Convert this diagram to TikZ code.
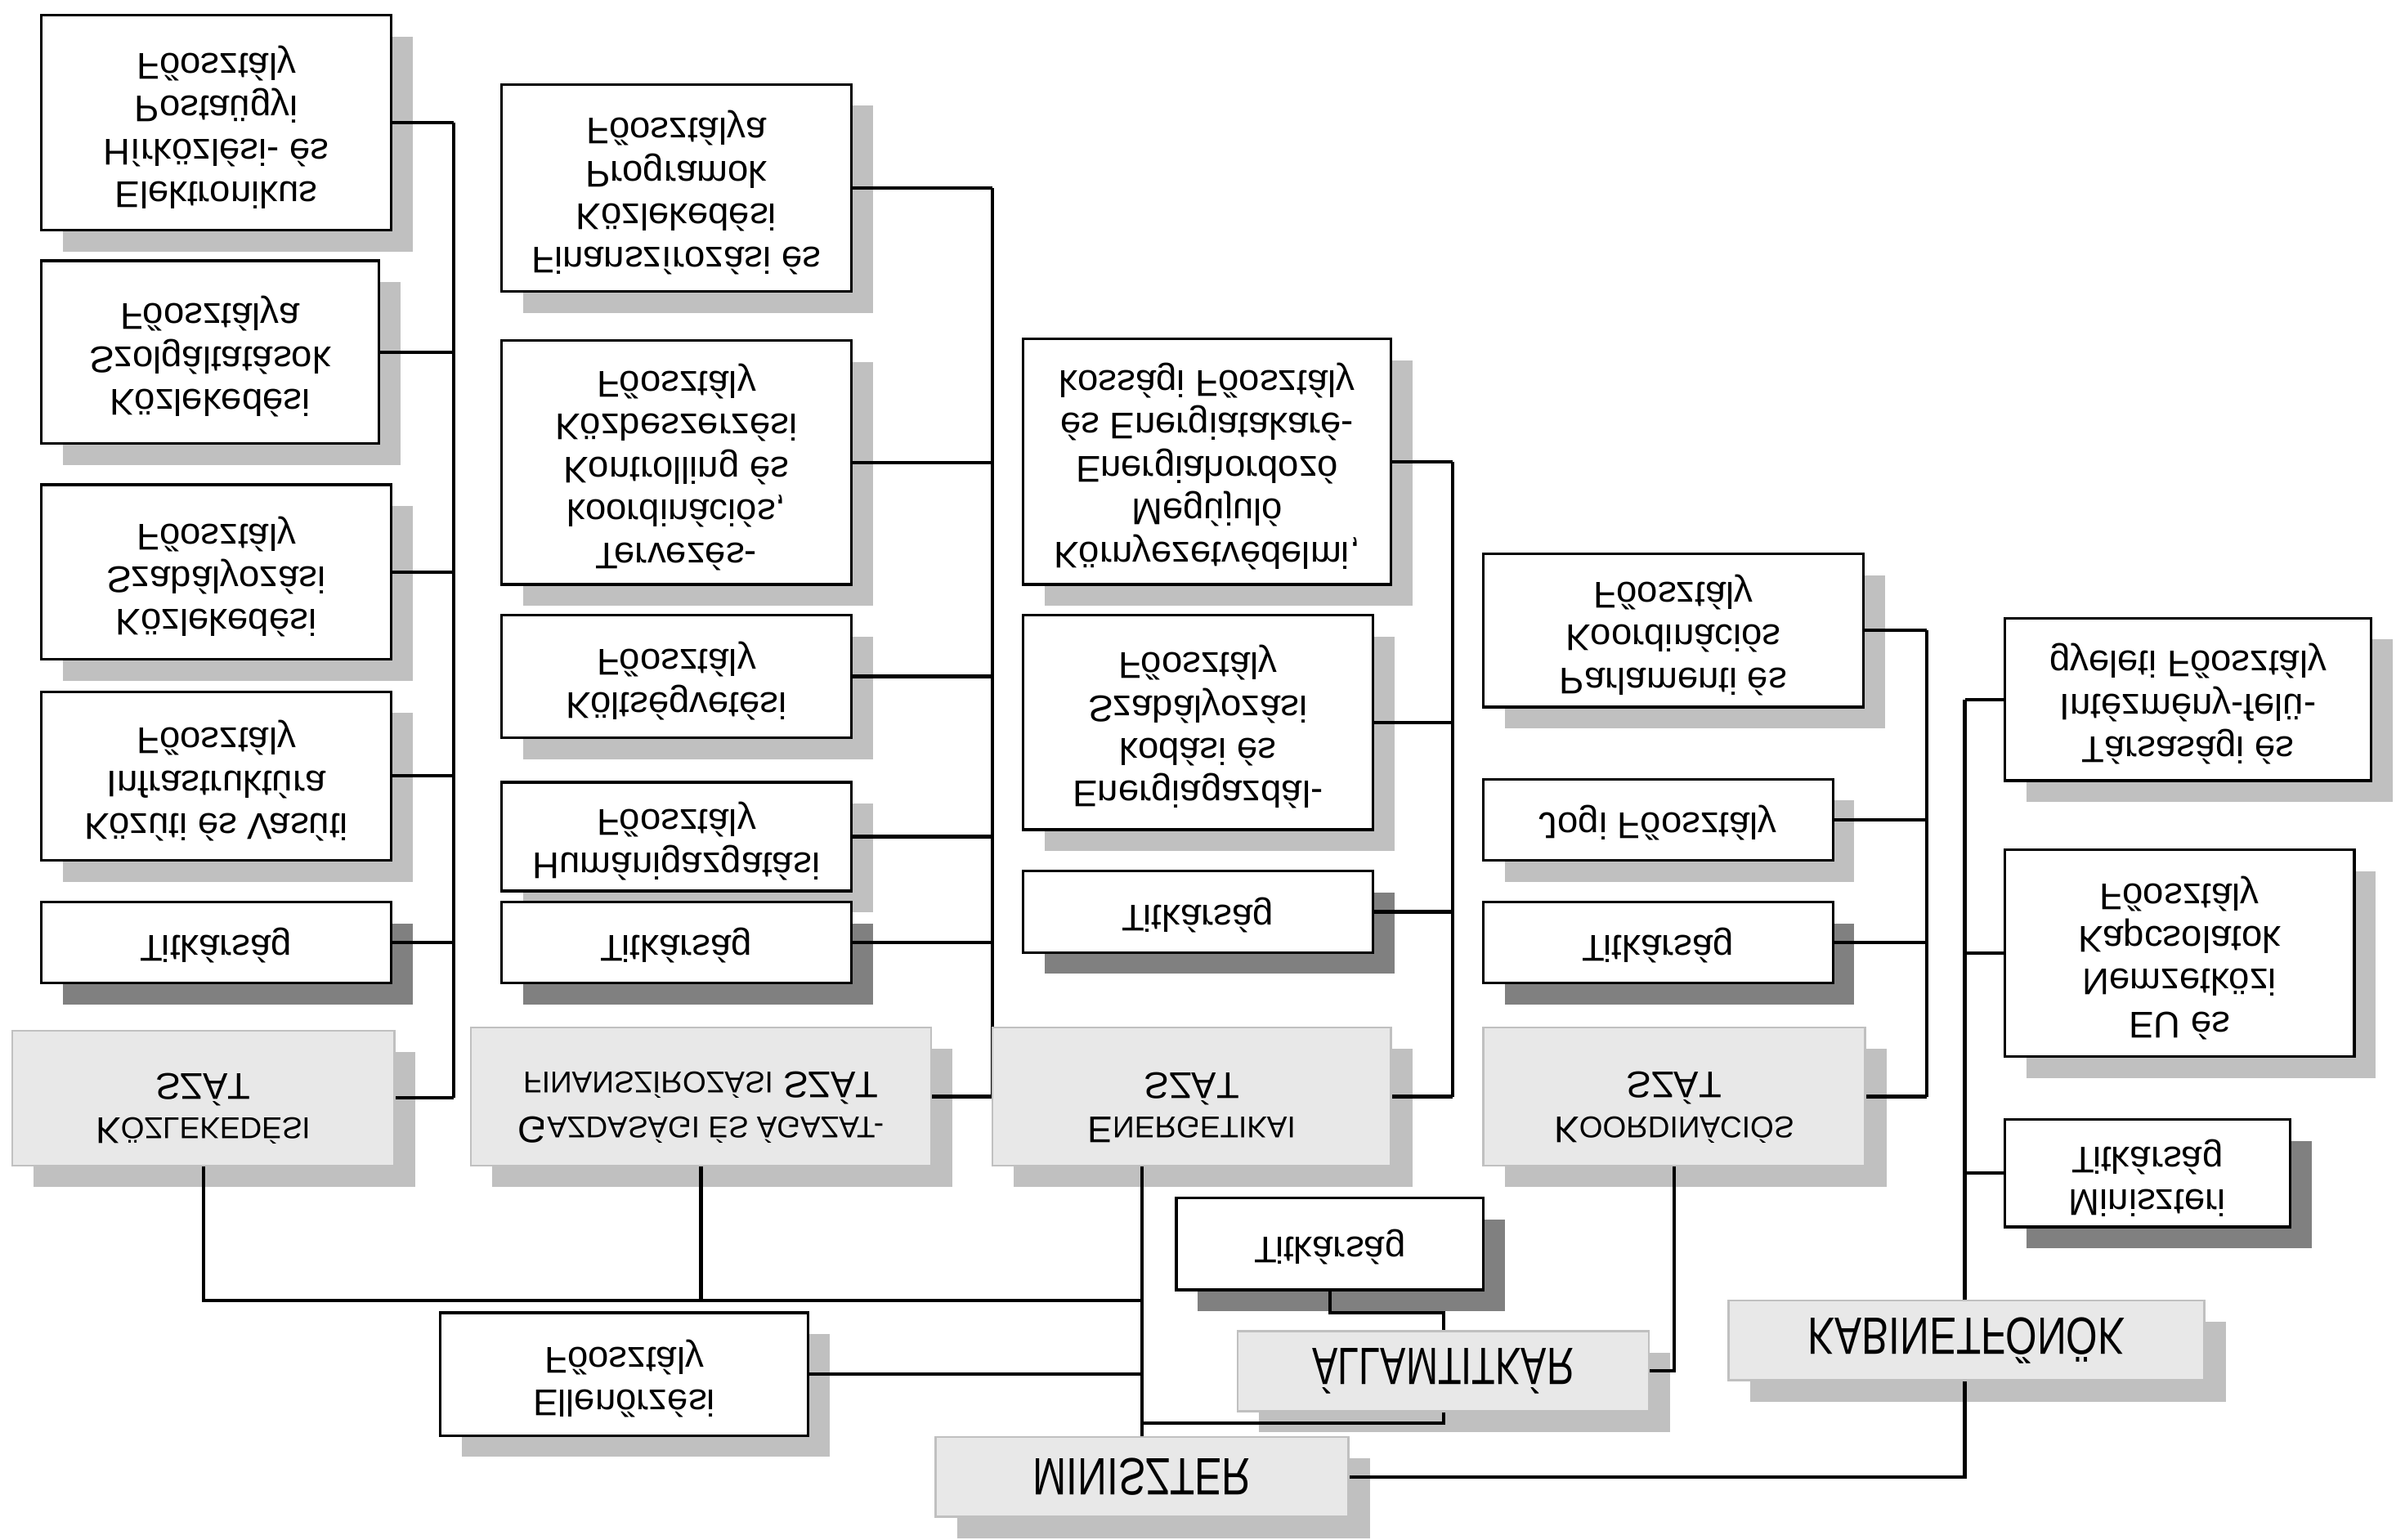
\documentclass[tikz,border=0pt]{standalone}
\usepackage{fontspec}
\usepackage{graphicx}
\setmainfont{Liberation Sans}
\pgfdeclarelayer{shadow}
\pgfdeclarelayer{lines}
\pgfsetlayers{shadow,lines,main}
\definecolor{shlight}{HTML}{C0C0C0}
\definecolor{shdark}{HTML}{808080}
\definecolor{grayfill}{HTML}{E8E8E8}
\newcommand\smc[1]{{\fontsize{11.2}{16.5}\selectfont #1}}
\newcommand\bigt[2]{\scalebox{#1}[1]{\fontsize{19.5}{21}\selectfont #2}}
\tikzset{
  wbox/.style={draw=black, line width=1pt, fill=white, inner sep=0pt},
  gbox/.style={draw=shlight, line width=0.8pt, fill=grayfill, inner sep=0pt},
  wboxtext/.style={inner sep=0pt, align=center, font=\fontsize{13.8}{15.9}\selectfont},
  gboxtext/.style={inner sep=0pt, align=center, font=\fontsize{13.8}{16.5}\selectfont},
  conn/.style={line width=1.25pt, line join=miter},
}
% name, x1, y1, x2, y2, style, shadow colour, text, text offset
\newcommand\obox[9]{%
  \begin{pgfonlayer}{shadow}
    \fill[#7] (#2+14,#3+14) rectangle (#4+14,#5+14);
  \end{pgfonlayer}
  \node[#6, minimum width={(#4-#2)*0.02cm}, minimum height={(#5-#3)*0.02cm}] (#1) at ({(#2+#4)/2},{(#3+#5)/2}) {};
  \node[#6text] (#1-t) at ({(#2+#4)/2},{(#3+#5)/2+#9}) {#8};
}
\begin{document}
\begin{tikzpicture}[x=0.02cm,y=0.02cm,yscale=-1,every node/.append style={transform shape}]
\useasboundingbox (0,0) rectangle (1568,1004);
% column A
\obox{A1}{27}{10}{255}{150}{wbox}{shlight}{Elektronikus\\Hírközlési- és\\Postaügyi\\Főosztály}{3}
\obox{A2}{27}{170}{247}{289}{wbox}{shlight}{Közlekedési\\Szolgáltatások\\Főosztálya}{3}
\obox{A3}{27}{316}{255}{430}{wbox}{shlight}{Közlekedési\\Szabályozási\\Főosztály}{3}
\obox{A4}{27}{451}{255}{561}{wbox}{shlight}{Közúti és Vasúti\\Infrastruktúra\\Főosztály}{3}
\obox{A5}{27}{588}{255}{641}{wbox}{shdark}{Titkárság}{2}
\obox{SZA}{8}{672}{257}{760}{gbox}{shlight}{K\smc{ÖZLEKEDÉSI}\\SZÁT}{7}
% column B
\obox{B1}{327}{55}{555}{190}{wbox}{shlight}{Finanszírozási és\\Közlekedési\\Programok\\Főosztálya}{3}
\obox{B2}{327}{222}{555}{381}{wbox}{shlight}{Tervezés-\\koordinációs,\\Kontrolling és\\Közbeszerzési\\Főosztály}{3}
\obox{B3}{327}{401}{555}{481}{wbox}{shlight}{Költségvetési\\Főosztály}{3}
\obox{B4}{327}{510}{555}{581}{wbox}{shlight}{Humánigazgatási\\Főosztály}{3}
\obox{B5}{327}{588}{555}{641}{wbox}{shdark}{Titkárság}{2}
\obox{SZB}{307}{670}{607}{760}{gbox}{shlight}{G\smc{AZDASÁGI ÉS ÁGAZAT-}\\\smc{FINANSZÍROZÁSI} SZÁT}{7}
% column C
\obox{C1}{667}{221}{907}{381}{wbox}{shlight}{Környezetvédelmi,\\Megújuló\\Energiahordozó\\és Energiatakaré-\\kossági Főosztály}{3}
\obox{C2}{667}{401}{895}{541}{wbox}{shlight}{Energiagazdál-\\kodási és\\Szabályozási\\Főosztály}{3}
\obox{C3}{667}{568}{895}{621}{wbox}{shdark}{Titkárság}{2}
\obox{SZC}{647}{670}{907}{760}{gbox}{shlight}{E\smc{NERGETIKAI}\\SZÁT}{7}
% column D
\obox{D1}{967}{361}{1215}{461}{wbox}{shlight}{Parlamenti és\\Koordinációs\\Főosztály}{3}
\obox{D2}{967}{508}{1195}{561}{wbox}{shlight}{Jogi Főosztály}{2}
\obox{D3}{967}{588}{1195}{641}{wbox}{shdark}{Titkárság}{2}
\obox{SZD}{967}{670}{1216}{760}{gbox}{shlight}{K\smc{OORDINÁCIÓS}\\SZÁT}{7}
% column E
\obox{E1}{1307}{403}{1546}{509}{wbox}{shlight}{Társasági és\\Intézmény-felü-\\gyeleti Főosztály}{3}
\obox{E2}{1307}{554}{1535}{689}{wbox}{shlight}{EU és\\Nemzetközi\\Kapcsolatok\\Főosztály}{3}
\obox{E3}{1307}{730}{1493}{800}{wbox}{shdark}{Miniszteri\\Titkárság}{3}
% bottom
\obox{ELL}{287}{856}{527}{936}{wbox}{shlight}{Ellenőrzési\\Főosztály}{3}
\obox{TT}{767}{781}{967}{841}{wbox}{shdark}{Titkárság}{2}
\obox{AT}{807}{868}{1075}{920}{gbox}{shlight}{\bigt{0.73}{ÁLLAMTITKÁR}}{0}
\obox{KAB}{1127}{848}{1437}{900}{gbox}{shlight}{\bigt{0.77}{KABINETFŐNÖK}}{0}
\obox{MIN}{610}{937}{879}{989}{gbox}{shlight}{\bigt{0.77}{MINISZTER}}{0}
% connectors
\begin{pgfonlayer}{lines}
\coordinate (busA) at (296,80);
\coordinate (busB) at (647,122);
\coordinate (busC) at (947,300);
\coordinate (busD) at (1256,410);
\coordinate (busE) at (1281,456);
\coordinate (m1) at (744,848);
\foreach \n in {A1,A2,A3,A4,A5,SZA} {\draw[conn] (\n.east) -- (\n.east -| busA);}
\draw[conn] (A1.east -| busA) -- (SZA.east -| busA);
\foreach \n in {B1,B2,B3,B4,B5,SZB} {\draw[conn] (\n.east) -- (\n.east -| busB);}
\draw[conn] (B1.east -| busB) -- (SZB.east -| busB);
\foreach \n in {C1,C2,C3,SZC} {\draw[conn] (\n.east) -- (\n.east -| busC);}
\draw[conn] (C1.east -| busC) -- (SZC.east -| busC);
\foreach \n in {D1,D2,D3,SZD} {\draw[conn] (\n.east) -- (\n.east -| busD);}
\draw[conn] (D1.east -| busD) -- (SZD.east -| busD);
\foreach \n in {E1,E2,E3} {\draw[conn] (\n.west) -- (\n.west -| busE);}
\draw[conn] (MIN.east) -| (busE);
\draw[conn] (SZA.north) |- (m1);
\draw[conn] (SZB.north) -- (SZB.north |- m1);
\draw[conn] (SZC.north -| MIN.south) -- (MIN.south);
\draw[conn] (ELL.east) -- (ELL.east -| MIN.south);
\draw[conn] (TT.north) -- ++(0,14) -| (AT.south);
\draw[conn] (AT.north) -- ++(0,7) -| (MIN.south);
\draw[conn] (SZD.north) |- (AT.east);
\end{pgfonlayer}
\end{tikzpicture}
\end{document}
